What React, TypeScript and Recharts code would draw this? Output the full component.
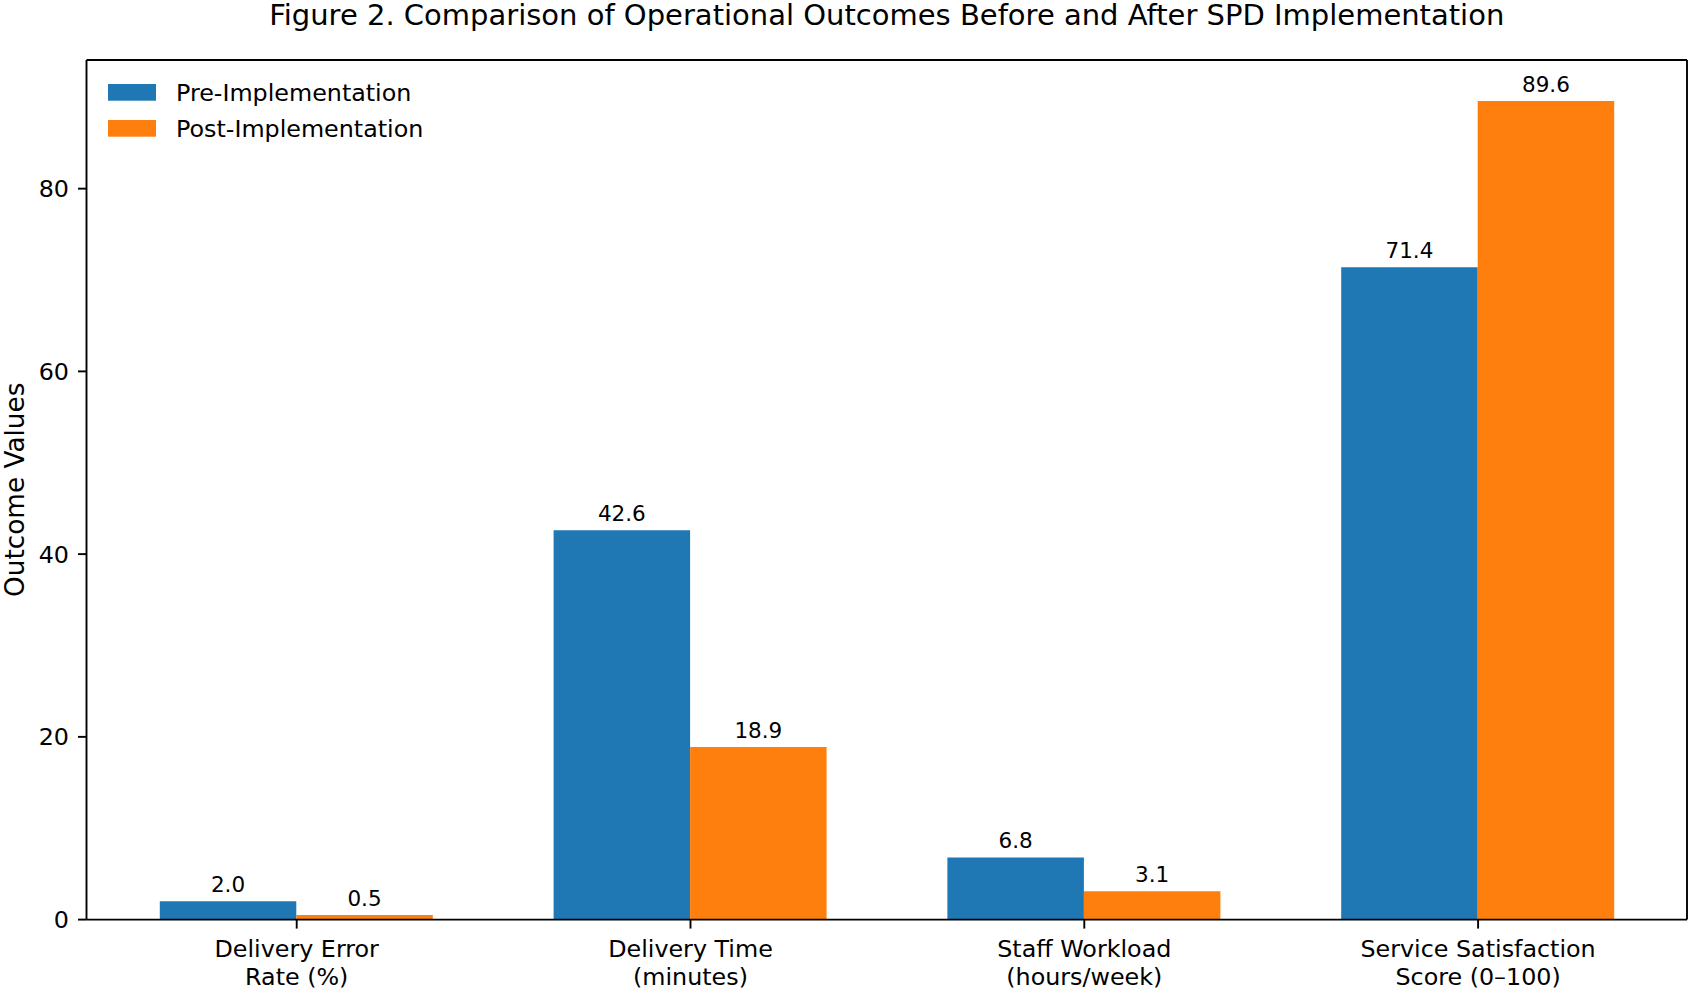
import React from "react";
import { BarChart, Bar, XAxis, YAxis, LabelList, CartesianGrid } from "recharts";

const categoryLines: string[][] = [
  ["Delivery Error", "Rate (%)"],
  ["Delivery Time", "(minutes)"],
  ["Staff Workload", "(hours/week)"],
  ["Service Satisfaction", "Score (0–100)"],
];
const preValues = [2.0, 42.6, 6.8, 71.4];
const postValues = [0.5, 18.9, 3.1, 89.6];
const seriesNames = ["Pre-Implementation", "Post-Implementation"];
const seriesColors = ["#1f77b4", "#ff7f0e"];
const yTicks = [0, 20, 40, 60, 80];
const titleText = "Figure 2. Comparison of Operational Outcomes Before and After SPD Implementation";
const yLabelText = "Outcome Values";

const data = categoryLines.map((lines, i) => ({
  name: lines.join("\n"),
  pre: preValues[i],
  post: postValues[i],
}));

const FONT = "'DejaVu Sans', sans-serif";
const W = 1696;
const H = 992;
const PLOT_LEFT = 86.5;
const PLOT_RIGHT = 1687;
const PLOT_TOP = 60;
const PLOT_BOTTOM = 919.6;
const Y_AXIS_W = 60;
const X_AXIS_H = H - PLOT_BOTTOM;

const XTick = (props: any) => {
  const { x, y, payload } = props;
  const lines = String(payload.value).split("\n");
  return (
    <text x={x} y={y} textAnchor="middle" fontSize={23.8} fontFamily={FONT} fill="#000">
      {lines.map((l, i) => (
        <tspan key={i} x={x} y={y + 26.2 + i * 28.3}>
          {l}
        </tspan>
      ))}
    </text>
  );
};

export default function App() {
  const maxVal = Math.max(...preValues, ...postValues);
  const yMax = maxVal * 1.05;
  return (
    <div style={{ position: "absolute", left: 0, top: 0, width: W, height: H, background: "#fff" }}>
      <BarChart
        width={W}
        height={H}
        data={data}
        margin={{ top: PLOT_TOP, right: W - PLOT_RIGHT, bottom: 0, left: PLOT_LEFT - Y_AXIS_W }}
        barGap={0}
      >
        <CartesianGrid
          stroke="#000"
          strokeWidth={1.9}
          horizontalCoordinatesGenerator={({ offset }: any) => [offset.top]}
          verticalCoordinatesGenerator={({ offset }: any) => [offset.left + offset.width]}
        />
        <XAxis
          dataKey="name"
          height={X_AXIS_H}
          padding={{ left: 13.3, right: 12 }}
          tick={<XTick />}
          tickSize={9}
          tickLine={{ stroke: "#000", strokeWidth: 1.9 }}
          axisLine={{ stroke: "#000", strokeWidth: 1.9 }}
          interval={0}
        />
        <YAxis
          width={Y_AXIS_W}
          domain={[0, yMax]}
          ticks={yTicks}
          tickSize={8.5}
          tickMargin={9}
          tick={{ fontSize: 23.8, fontFamily: FONT, fill: "#000" }}
          tickLine={{ stroke: "#000", strokeWidth: 1.9 }}
          axisLine={{ stroke: "#000", strokeWidth: 1.9 }}
          allowDataOverflow
        />
        <Bar dataKey="pre" name={seriesNames[0]} fill={seriesColors[0]} barSize={136.5} isAnimationActive={false}>
          <LabelList
            dataKey="pre"
            position="top"
            offset={9}
            formatter={(v: any) => Number(v).toFixed(1)}
            style={{ fontSize: 21.5, fontFamily: FONT, fill: "#000" }}
          />
        </Bar>
        <Bar dataKey="post" name={seriesNames[1]} fill={seriesColors[1]} barSize={136.5} isAnimationActive={false}>
          <LabelList
            dataKey="post"
            position="top"
            offset={9}
            formatter={(v: any) => Number(v).toFixed(1)}
            style={{ fontSize: 21.5, fontFamily: FONT, fill: "#000" }}
          />
        </Bar>
      </BarChart>
      <svg
        width={W}
        height={H}
        style={{ position: "absolute", left: 0, top: 0, pointerEvents: "none" }}
      >
        <text x={(PLOT_LEFT + PLOT_RIGHT) / 2} y={24.5} textAnchor="middle" fontSize={29} fontFamily={FONT} fill="#000">
          {titleText}
        </text>
        <text
          x={24}
          y={(PLOT_TOP + PLOT_BOTTOM) / 2}
          transform={`rotate(-90, 24, ${(PLOT_TOP + PLOT_BOTTOM) / 2})`}
          textAnchor="middle"
          fontSize={26.3}
          fontFamily={FONT}
          fill="#000"
        >
          {yLabelText}
        </text>
        {seriesNames.map((n, i) => (
          <g key={n}>
            <rect x={108} y={84 + i * 36} width={48} height={16.7} fill={seriesColors[i]} />
            <text x={176} y={100.7 + i * 36} fontSize={23.8} fontFamily={FONT} fill="#000">
              {n}
            </text>
          </g>
        ))}
      </svg>
    </div>
  );
}
